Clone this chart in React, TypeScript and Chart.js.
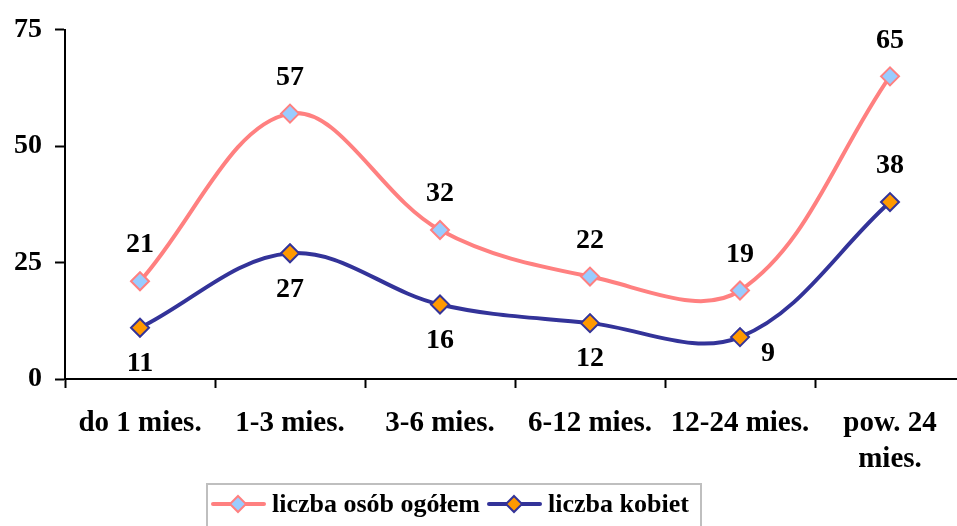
import React, { useEffect, useRef } from "react";
import { Chart, registerables } from "chart.js";

Chart.register(...registerables);

const categories: (string | string[])[] = [
  "do 1 mies.",
  "1-3 mies.",
  "3-6 mies.",
  "6-12 mies.",
  "12-24 mies.",
  ["pow. 24", "mies."],
];
const ogolem = [21, 57, 32, 22, 19, 65];
const kobiet = [11, 27, 16, 12, 9, 38];
const ogolemLabelPos = ["above", "above", "above", "above", "above", "above"];
const kobietLabelPos = ["below", "below", "below", "below", "right", "above"];
const yTicks = [0, 25, 50, 75];
const seriesNames = ["liczba osób ogółem", "liczba kobiet"];

const FONT = '"Liberation Serif", "Times New Roman", serif';
const PINK = "#FF8080";
const NAVY = "#333399";
const LIGHTBLUE = "#99CCFF";
const ORANGE = "#FF9900";

const labelPositions = [ogolemLabelPos, kobietLabelPos];

const dataLabelPlugin = {
  id: "dataLabels",
  afterDatasetsDraw(chart: any) {
    const ctx = chart.ctx;
    ctx.save();
    ctx.font = `bold 28px ${FONT}`;
    ctx.fillStyle = "#000";
    ctx.textAlign = "center";
    ctx.textBaseline = "middle";
    chart.data.datasets.forEach((ds: any, di: number) => {
      const meta = chart.getDatasetMeta(di);
      meta.data.forEach((pt: any, i: number) => {
        const pos = labelPositions[di][i];
        let dx = 0;
        let dy = 0;
        if (pos === "above") dy = -36;
        else if (pos === "below") dy = 36;
        else if (pos === "right") {
          dx = 28;
          dy = 17;
        }
        ctx.fillText(String(ds.data[i]), pt.x + dx, pt.y + dy);
      });
    });
    ctx.restore();
  },
};

function drawDiamond(ctx: any, x: number, y: number, r: number, fill: string, stroke: string) {
  ctx.beginPath();
  ctx.moveTo(x, y - r);
  ctx.lineTo(x + r, y);
  ctx.lineTo(x, y + r);
  ctx.lineTo(x - r, y);
  ctx.closePath();
  ctx.fillStyle = fill;
  ctx.fill();
  ctx.lineWidth = 2;
  ctx.strokeStyle = stroke;
  ctx.stroke();
}

const legendPlugin = {
  id: "customLegend",
  afterDraw(chart: any) {
    const ctx = chart.ctx;
    ctx.save();
    const boxL = 207;
    const boxT = 484;
    const boxR = 701;
    const boxB = 540;
    ctx.strokeStyle = "#bfbfbf";
    ctx.lineWidth = 2;
    ctx.strokeRect(boxL, boxT, boxR - boxL, boxB - boxT);
    const cy = 504;
    const items = [
      { x: 213, line: PINK, fill: LIGHTBLUE, text: seriesNames[0] },
      { x: 489, line: NAVY, fill: ORANGE, text: seriesNames[1] },
    ];
    ctx.font = `bold 26px ${FONT}`;
    ctx.textBaseline = "middle";
    ctx.textAlign = "left";
    items.forEach((it) => {
      ctx.beginPath();
      ctx.moveTo(it.x, cy);
      ctx.lineTo(it.x + 51, cy);
      ctx.lineWidth = 4;
      ctx.strokeStyle = it.line;
      ctx.lineCap = "round";
      ctx.stroke();
      drawDiamond(ctx, it.x + 25, cy, 8, it.fill, it.line);
      ctx.fillStyle = "#000";
      ctx.fillText(it.text, it.x + 59, cy + 1);
    });
    ctx.restore();
  },
};

export default function App() {
  const canvasRef = useRef<HTMLCanvasElement | null>(null);

  useEffect(() => {
    if (!canvasRef.current) return;
    const chart = new Chart(canvasRef.current, {
      type: "line",
      data: {
        labels: categories as any,
        datasets: [
          {
            label: seriesNames[0],
            data: ogolem,
            borderColor: PINK,
            borderWidth: 4,
            tension: 0.36,
            pointStyle: "rectRot",
            pointRadius: 9,
            pointBorderWidth: 2,
            pointBackgroundColor: LIGHTBLUE,
            pointBorderColor: PINK,
            fill: false,
          },
          {
            label: seriesNames[1],
            data: kobiet,
            borderColor: NAVY,
            borderWidth: 4,
            tension: 0.36,
            pointStyle: "rectRot",
            pointRadius: 9,
            pointBorderWidth: 2,
            pointBackgroundColor: ORANGE,
            pointBorderColor: NAVY,
            fill: false,
          },
        ],
      },
      options: {
        responsive: false,
        animation: false,
        layout: { padding: { left: 0, right: 15, top: 27, bottom: 0 } },
        plugins: {
          legend: { display: false },
          tooltip: { enabled: false },
          title: { display: false },
        },
        scales: {
          x: {
            offset: true,
            grid: {
              offset: true,
              drawOnChartArea: false,
              drawTicks: true,
              tickLength: 9,
              tickWidth: 2,
              tickColor: "#000",
            },
            border: { display: true, color: "#000", width: 2 },
            ticks: {
              color: "#000",
              font: { family: FONT, size: 29, weight: "bold", lineHeight: 1.25 },
              padding: 17,
              maxRotation: 0,
              autoSkip: false,
            },
            afterFit: (scale: any) => {
              scale.height = 147;
            },
          },
          y: {
            min: 0,
            max: 75,
            afterBuildTicks: (scale: any) => {
              scale.ticks = yTicks.map((v) => ({ value: v }));
            },
            grid: {
              drawOnChartArea: false,
              drawTicks: true,
              tickLength: 10,
              tickWidth: 2,
              tickColor: "#000",
            },
            border: { display: true, color: "#000", width: 2 },
            ticks: {
              color: "#000",
              font: { family: FONT, size: 28, weight: "bold" },
              padding: 13,
            },
            afterFit: (scale: any) => {
              scale.width = 65;
            },
          },
        },
      },
      plugins: [dataLabelPlugin, legendPlugin],
    });
    return () => chart.destroy();
  }, []);

  return (
    <div
      style={{
        position: "fixed",
        left: 0,
        top: 0,
        width: 957,
        height: 526,
        overflow: "hidden",
        background: "#fff",
      }}
    >
      <canvas ref={canvasRef} width={980} height={526} style={{ width: 980, height: 526, display: "block" }} />
    </div>
  );
}
